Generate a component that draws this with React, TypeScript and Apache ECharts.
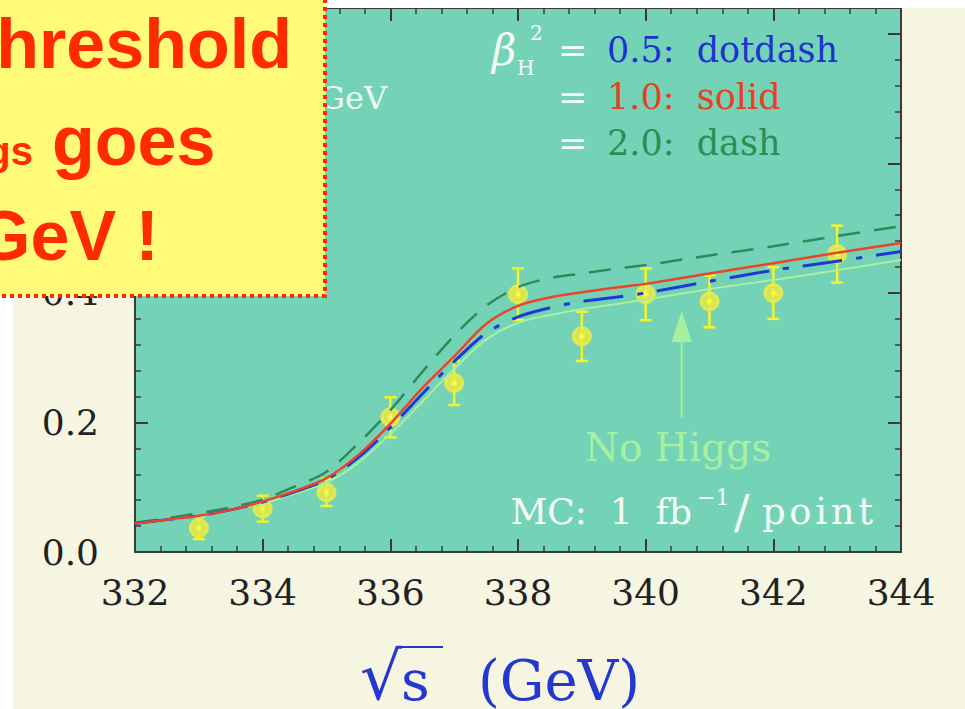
import React, { useEffect, useRef } from "react";
import * as echarts from "echarts";

// ---- data ----
const curveX = [332, 332.5, 333, 333.5, 334, 334.5, 335, 335.5, 336, 336.5, 337, 337.5, 338, 338.5, 339, 339.5, 340, 341, 342, 343, 344];
const beta05 = [0.044, 0.050, 0.056, 0.065, 0.077, 0.093, 0.112, 0.146, 0.192, 0.244, 0.294, 0.338, 0.363, 0.377, 0.387, 0.393, 0.400, 0.418, 0.435, 0.449, 0.464];
const beta10 = [0.044, 0.050, 0.056, 0.065, 0.078, 0.094, 0.114, 0.150, 0.198, 0.253, 0.302, 0.352, 0.380, 0.393, 0.401, 0.408, 0.414, 0.430, 0.446, 0.462, 0.477];
const beta20 = [0.045, 0.052, 0.060, 0.069, 0.081, 0.101, 0.124, 0.168, 0.219, 0.278, 0.334, 0.380, 0.409, 0.423, 0.430, 0.437, 0.443, 0.458, 0.472, 0.488, 0.503];
const noHiggs = [0.044, 0.050, 0.055, 0.064, 0.075, 0.090, 0.107, 0.138, 0.182, 0.232, 0.283, 0.328, 0.354, 0.366, 0.375, 0.382, 0.390, 0.406, 0.420, 0.435, 0.451];

const mcEnergies = [333, 334, 335, 336, 337, 338, 339, 340, 341, 342, 343];
const mcValues = [0.037, 0.067, 0.092, 0.208, 0.261, 0.398, 0.333, 0.398, 0.387, 0.400, 0.460];
const mcErrors = [0.017, 0.020, 0.021, 0.031, 0.034, 0.040, 0.038, 0.040, 0.040, 0.040, 0.044];

const X_MIN = 332;
const X_MAX = 344;
const X_STEP = 2;
const Y_MIN = 0;
const Y_MAX = 0.84;
const Y_STEP = 0.2;

const SERIF = "DejaVu Serif";
const SANS = "Liberation Sans";
const AXIS_COLOR = "#3a3a3a";
const HS = "\u200A";

export default function App() {
  const ref = useRef<HTMLDivElement>(null);

  useEffect(() => {
    if (!ref.current) return;
    const chart = echarts.init(ref.current, null, { renderer: "svg" });

    const lineData = (ys: number[]) => curveX.map((x, i) => [x, ys[i]]);
    const axisLineStyle = { color: AXIS_COLOR, width: 2 };

    const xAxisBase = {
      type: "value",
      min: X_MIN,
      max: X_MAX,
      interval: X_STEP,
      axisLine: { show: true, onZero: false, lineStyle: axisLineStyle },
      axisTick: { show: true, inside: true, length: 13, lineStyle: { color: AXIS_COLOR, width: 2 } },
      minorTick: { show: true, splitNumber: 5, length: 6, lineStyle: { color: AXIS_COLOR, width: 1.5 } },
      splitLine: { show: false },
    };
    const yAxisBase = {
      type: "value",
      min: Y_MIN,
      max: Y_MAX,
      interval: Y_STEP,
      axisLine: { show: true, onZero: false, lineStyle: axisLineStyle },
      axisTick: { show: true, inside: true, length: 13, lineStyle: { color: AXIS_COLOR, width: 2 } },
      minorTick: { show: true, splitNumber: 5, length: 6, lineStyle: { color: AXIS_COLOR, width: 1.5 } },
      splitLine: { show: false },
    };

    const txt = (x: number, y: number, text: string, fontSize: number, fill: string, opts: any = {}) => ({
      type: "text",
      x,
      y,
      z: opts.z ?? 50,
      style: {
        text,
        fill,
        fontSize,
        fontFamily: opts.fontFamily ?? SERIF,
        fontWeight: opts.fontWeight ?? "normal",
        fontStyle: opts.fontStyle ?? "normal",
        align: opts.align ?? "left",
        verticalAlign: "middle",
      },
    });

    chart.setOption({
      animation: false,
      backgroundColor: "#f6f5e2",
      grid: {
        left: 135,
        top: 8,
        right: 64,
        bottom: 157,
        show: true,
        backgroundColor: "#74d3b6",
        borderWidth: 0,
      },
      xAxis: [
        {
          ...xAxisBase,
          position: "bottom",
          axisLabel: { show: true, margin: 22, fontSize: 36, fontFamily: SERIF, color: "#222" },
        },
        { ...xAxisBase, position: "top", axisLabel: { show: false } },
      ],
      yAxis: [
        {
          ...yAxisBase,
          position: "left",
          axisLabel: {
            show: true,
            margin: 36,
            fontSize: 36,
            fontFamily: SERIF,
            color: "#222",
            padding: [14, 0, 0, 0],
            showMaxLabel: false,
            formatter: (v: number) => v.toFixed(1),
          },
        },
        { ...yAxisBase, position: "right", axisLabel: { show: false } },
      ],
      series: [
        {
          name: "No Higgs",
          type: "line",
          data: lineData(noHiggs),
          smooth: 0.3,
          showSymbol: false,
          lineStyle: { color: "#a6f0a0", width: 2 },
        },
        {
          name: "beta2=2.0",
          type: "line",
          data: lineData(beta20),
          smooth: 0.3,
          showSymbol: false,
          lineStyle: { color: "#2e8a5a", width: 2.5, type: [22, 14] },
        },
        {
          name: "beta2=0.5",
          type: "line",
          data: lineData(beta05),
          smooth: 0.3,
          showSymbol: false,
          lineStyle: { color: "#1f3ad0", width: 3, type: [40, 14, 6, 14] },
        },
        {
          name: "beta2=1.0",
          type: "line",
          data: lineData(beta10),
          smooth: 0.3,
          showSymbol: false,
          lineStyle: { color: "#e8452a", width: 2.5 },
        },
        {
          name: "MC",
          type: "custom",
          encode: { x: 0, y: 1 },
          data: mcEnergies.map((e, i) => [e, mcValues[i], mcErrors[i]]),
          renderItem: (params: any, api: any) => {
            const x = api.value(0);
            const y = api.value(1);
            const err = api.value(2);
            const c = api.coord([x, y]);
            const hi = api.coord([x, y + err]);
            const lo = api.coord([x, y - err]);
            const barStyle = { stroke: "#f4f42a", lineWidth: 2.5 };
            return {
              type: "group",
              children: [
                { type: "line", shape: { x1: c[0], y1: hi[1], x2: c[0], y2: lo[1] }, style: barStyle },
                { type: "line", shape: { x1: c[0] - 6, y1: hi[1], x2: c[0] + 6, y2: hi[1] }, style: barStyle },
                { type: "line", shape: { x1: c[0] - 6, y1: lo[1], x2: c[0] + 6, y2: lo[1] }, style: barStyle },
                { type: "circle", shape: { cx: c[0], cy: c[1], r: 9.5 }, style: { fill: "rgba(236,238,70,0.88)", stroke: "#e6e85a", lineWidth: 1 } },
                { type: "circle", shape: { cx: c[0], cy: c[1], r: 5.5 }, style: { fill: "none", stroke: "#d8d850", lineWidth: 1 } },
                { type: "circle", shape: { cx: c[0], cy: c[1], r: 2 }, style: { fill: "#ffff3a" } },
              ],
            };
          },
        },
      ],
      graphic: [
        // white page margins
        { type: "rect", shape: { x: 0, y: 0, width: 965, height: 8 }, style: { fill: "#ffffff" }, z: 40 },
        { type: "rect", shape: { x: 0, y: 0, width: 13, height: 709 }, style: { fill: "#ffffff" }, z: 40 },

        // legend text
        txt(492, 50, "β", 42, "#f4fbf6", { fontStyle: "italic" }),
        txt(517, 68, "H", 20, "#f4fbf6"),
        txt(530, 33, "2", 20, "#f4fbf6"),
        txt(558, 50, "=", 35, "#f4fbf6"),
        txt(607, 50, "0.5:  dotdash", 35, "#1e32d2"),
        txt(558, 97, "=", 35, "#f4fbf6"),
        txt(607, 97, "1.0:  solid", 35, "#e8401e"),
        txt(558, 143, "=", 35, "#f4fbf6"),
        txt(607, 143, "2.0:  dash", 35, "#2d8c55"),

        // partially hidden label
        txt(387, 98, "GeV", 32, "#eef8f2", { align: "right" }),

        // No Higgs annotation
        { type: "line", shape: { x1: 681.7, y1: 417, x2: 681.7, y2: 338 }, style: { stroke: "#a6f0a0", lineWidth: 2 }, z: 50 },
        { type: "polygon", shape: { points: [[681.7, 311], [671.7, 342], [691.7, 342]] }, style: { fill: "#a6f0a0" }, z: 50 },
        txt(678, 447, "No Higgs", 39, "#a6f0a0", { align: "center" }),

        // MC luminosity note
        txt(692, 511, "MC:  1  fb", 36, "#f4fbf6", { align: "right" }),
        txt(697, 497, "−1", 22, "#f4fbf6"),
        txt(734, 512, "/", 46, "#f4fbf6"),
        txt(762, 511, `p${HS}o${HS}i${HS}n${HS}t`, 37, "#f4fbf6"),

        // x axis title
        txt(360, 676, "√", 66, "#2438d0"),
        { type: "line", shape: { x1: 396, y1: 647, x2: 443, y2: 647 }, style: { stroke: "#2438d0", lineWidth: 2 }, z: 50 },
        txt(401, 680, "s", 56, "#2438d0"),
        txt(478, 680, "(GeV)", 56, "#2438d0"),

        // yellow callout box
        {
          type: "rect",
          shape: { x: -10, y: -10, width: 335, height: 306 },
          style: { fill: "#fffa78", stroke: "#ff2a00", lineWidth: 4, lineDash: [4, 4] },
          z: 100,
        },
        txt(-27, 44, "threshold", 70, "#ff2a00", { fontFamily: SANS, fontWeight: "bold", z: 101 }),
        txt(33, 151, "Higgs", 40, "#ff2a00", { fontFamily: SANS, fontWeight: "bold", align: "right", z: 101 }),
        txt(52, 141, "goes", 70, "#ff2a00", { fontFamily: SANS, fontWeight: "bold", z: 101 }),
        txt(-24, 236, "GeV !", 70, "#ff2a00", { fontFamily: SANS, fontWeight: "bold", z: 101 }),
      ],
    });

    return () => chart.dispose();
  }, []);

  return (
    <div
      ref={ref}
      style={{ position: "fixed", left: 0, top: 0, width: 965, height: 709 }}
    />
  );
}
